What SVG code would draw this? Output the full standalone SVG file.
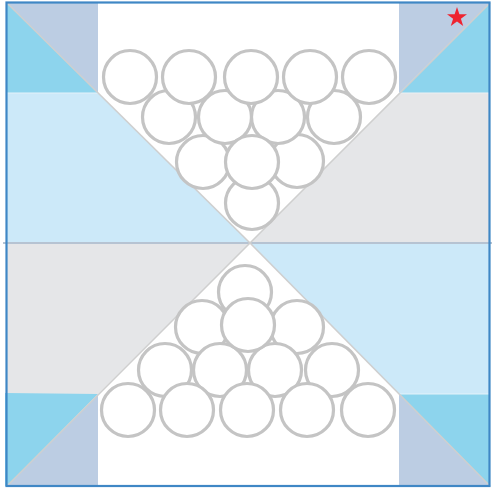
<svg xmlns="http://www.w3.org/2000/svg" width="492" height="488" viewBox="0 0 492 488">
  <style>
    .gb{fill:#bccde3}
    .sb{fill:#8dd4ed}
    .lb{fill:#cce9f9}
    .lg{fill:#e5e6e8}
    .diag{stroke:#cfcfcf;stroke-width:1.6;fill:none}
    .ball{fill:#ffffff;stroke:#c4c4c4;stroke-width:3.2}
  </style>
  <defs>
    <circle id="b" r="26.5" class="ball"/>
  </defs>
  <rect x="0" y="0" width="492" height="488" fill="#ffffff"/>
  <g id="background">
    <!-- top-left corner -->
    <polygon class="gb" points="7,3 98,3 98,93"/>
    <polygon class="sb" points="7,3 98,93 7,93"/>
    <!-- top-right corner -->
    <polygon class="gb" points="399,3 490,3 399,93"/>
    <polygon class="sb" points="490,3 490,93 399,93"/>
    <!-- left upper light blue -->
    <polygon class="lb" points="7,93 98,93 250,243 7,243"/>
    <!-- right upper light gray -->
    <polygon class="lg" points="399,93 490,93 490,243 250,243"/>
    <!-- left lower light gray -->
    <polygon class="lg" points="7,243 250,243 98,394 7,394"/>
    <!-- right lower light blue -->
    <polygon class="lb" points="250,243 490,243 490,394 399,394"/>
    <!-- bottom-left corner -->
    <polygon class="sb" points="5,393 98,394 7,486 5,486"/>
    <polygon class="gb" points="98,394 98,486 7,486"/>
    <!-- bottom-right corner -->
    <polygon class="sb" points="399,394 490,394 490,486"/>
    <polygon class="gb" points="399,394 490,486 399,486"/>
  </g>
  <g id="lines">
    <line x1="7" y1="93" x2="98" y2="93" stroke="#e4f2fa" stroke-width="1"/>
    <line x1="399" y1="93" x2="490" y2="93" stroke="#eef0f2" stroke-width="1"/>
    <line x1="399" y1="394" x2="490" y2="394" stroke="#e4f2fa" stroke-width="1"/>
    <line x1="3" y1="243" x2="492" y2="243" stroke="#b6c3d2" stroke-width="2"/>
    <line class="diag" x1="7" y1="3" x2="250" y2="243"/>
    <line class="diag" x1="490" y1="3" x2="250" y2="243"/>
    <line class="diag" x1="250" y1="243" x2="7" y2="486"/>
    <line class="diag" x1="250" y1="243" x2="490" y2="486"/>
  </g>
  <g id="top-balls">
    <use href="#b" x="252" y="203"/>
    <use href="#b" x="203" y="162"/>
    <use href="#b" x="297" y="161"/>
    <use href="#b" x="169" y="117"/>
    <use href="#b" x="225" y="117"/>
    <use href="#b" x="278" y="117"/>
    <use href="#b" x="334" y="117"/>
    <use href="#b" x="130" y="77"/>
    <use href="#b" x="189" y="77"/>
    <use href="#b" x="251" y="77"/>
    <use href="#b" x="310" y="77"/>
    <use href="#b" x="369" y="77"/>
    <use href="#b" x="252" y="162"/>
  </g>
  <g id="bottom-balls">
    <use href="#b" x="245" y="292"/>
    <use href="#b" x="202" y="327"/>
    <use href="#b" x="297" y="327"/>
    <use href="#b" x="165" y="370"/>
    <use href="#b" x="220" y="370"/>
    <use href="#b" x="275" y="370"/>
    <use href="#b" x="332" y="370"/>
    <use href="#b" x="128" y="410"/>
    <use href="#b" x="187" y="410"/>
    <use href="#b" x="247" y="410"/>
    <use href="#b" x="307" y="410"/>
    <use href="#b" x="368" y="410"/>
    <use href="#b" x="248" y="325"/>
  </g>
  <g id="star">
    <polygon fill="#ee2430" points="457,7 459.4,14.2 467,14.3 460.9,18.8 463.2,26 457,21.6 450.8,26 453.1,18.8 447,14.3 454.6,14.2"/>
  </g>
  <rect id="border" x="6.5" y="2.5" width="483" height="483.5" fill="none" stroke="#3f87c5" stroke-width="2.2"/>
</svg>
